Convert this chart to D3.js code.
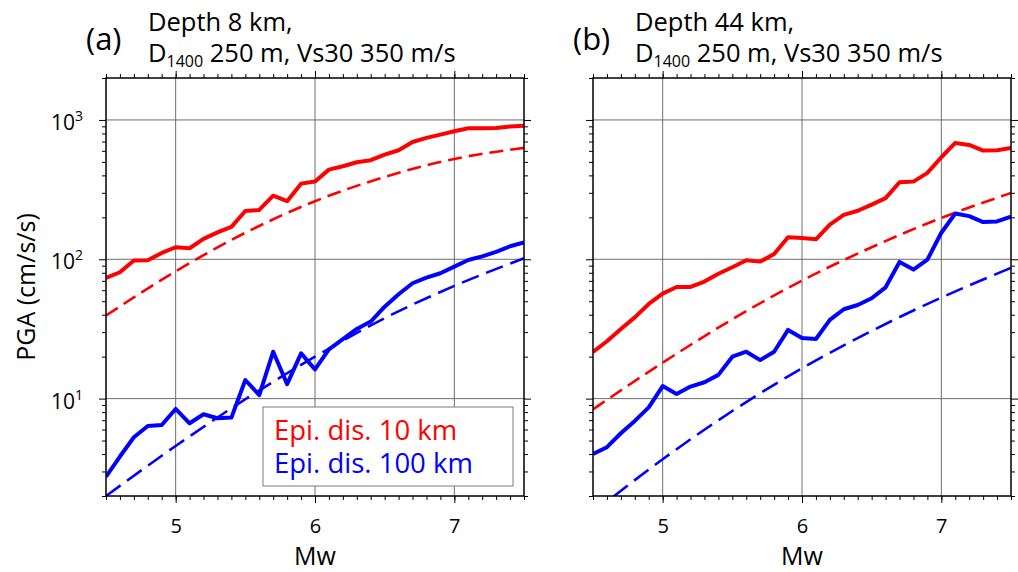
<!DOCTYPE html>
<html>
<head>
<meta charset="utf-8">
<script src="https://cdn.jsdelivr.net/npm/d3@7"></script>
<style>
  body { margin: 0; background: #fff; }
  svg { font-family: 'Open Sans', sans-serif; }
</style>
</head>
<body>
<div id="chart"></div>
<script>
(function() {
    'use strict';

    // Magnitudes of the simulated (solid) curves
    const mw = [4.5, 4.6, 4.7, 4.8, 4.9, 5.0, 5.1, 5.2, 5.3, 5.4, 5.5, 5.6, 5.7, 5.8, 5.9, 6.0,
                6.1, 6.2, 6.3, 6.4, 6.5, 6.6, 6.7, 6.8, 6.9, 7.0, 7.1, 7.2, 7.3, 7.4, 7.5];
    // Magnitudes of the GMPE (dashed) curves
    const mwGmpe = [4.5, 5.0, 5.5, 6.0, 6.5, 7.0, 7.5];

    // (a) depth 8 km
    const aNear = [73.5, 80.7, 98, 98.5, 111, 122, 120, 140, 156, 171, 222, 226, 286, 261, 349, 361,
                   440, 465, 497, 514, 564, 606, 695, 743, 785, 830, 872, 872, 877, 896, 910];
    const aFar = [2.75, 3.84, 5.28, 6.36, 6.47, 8.43, 6.65, 7.72, 7.23, 7.31, 13.6, 10.6, 21.7, 12.7, 21.1, 16.2,
                  22.6, 26.7, 31.6, 35.7, 45.7, 56.1, 67.3, 73.9, 79.4, 88.5, 98.9, 105, 113, 124, 132];
    const aNearGmpe = [39.5, 82, 155, 261, 390, 525, 630];
    const aFarGmpe = [2.0, 4.57, 9.9, 20.0, 37.8, 64.4, 101.6];

    // (b) depth 44 km
    const bNear = [21.6, 25.8, 31.6, 38.3, 47.8, 56.7, 63.3, 63.3, 69.2, 78.8, 87.7, 98.4, 96.2, 109, 144, 142,
                   139, 177, 208, 223, 247, 275, 357, 361, 417, 540, 684, 662, 603, 606, 630];
    const bFar = [4.01, 4.48, 5.64, 6.92, 8.66, 12.3, 10.8, 12.2, 13.1, 14.8, 20.0, 21.7, 18.9, 21.7, 31.1, 27.2,
                  26.8, 36.7, 43.8, 47.0, 52.5, 62.9, 95.7, 84.3, 99.5, 155, 213, 204, 185, 187, 202];
    const bNearGmpe = [8.38, 18.1, 37.1, 70.3, 122, 198, 299];
    const bFarGmpe = [1.52, 3.67, 8.15, 16.5, 30.6, 53.1, 86.7];

    const xMajor = [5, 6, 7];
    const yMajor = [10, 100, 1000];
    const yLabels = ['1', '2', '3'];
    const legendText = ['Epi. dis. 10 km', 'Epi. dis. 100 km'];

    const width = 1018;
    const height = 572;
    const top = 78, bottom = 496;
    const red = '#ff0000', blue = '#0000ff';

    const svg = d3.select('#chart').append('svg')
        .attr('width', width)
        .attr('height', height);

    const xMinor = d3.range(45, 76).map(d => d / 10);
    const yMinor = [];
    [1, 10, 100, 1000].forEach(dec => {
        for (let k = 2; k <= 9; k++) {
            if (dec * k >= 2 && dec * k <= 2000) yMinor.push(dec * k);
        }
    });

    function panel(id, left, right, near, far, nearGmpe, farGmpe, letter, depth) {
        const x = d3.scaleLinear().domain([4.5, 7.5]).range([left, right]);
        const y = d3.scaleLog().domain([2, 2000]).range([bottom, top]);
        const g = svg.append('g').attr('id', id);

        g.append('clipPath').attr('id', id + 'clip')
            .append('rect')
            .attr('x', left).attr('y', top)
            .attr('width', right - left).attr('height', bottom - top);

        // grid
        g.append('g').selectAll('line').data(xMajor).enter().append('line')
            .attr('x1', d => x(d)).attr('x2', d => x(d))
            .attr('y1', top).attr('y2', bottom)
            .attr('stroke', '#6e6e6e').attr('stroke-width', 1);
        g.append('g').selectAll('line').data(yMajor).enter().append('line')
            .attr('x1', left).attr('x2', right)
            .attr('y1', d => y(d)).attr('y2', d => y(d))
            .attr('stroke', '#6e6e6e').attr('stroke-width', 1);

        // ticks on all four sides
        const tickAxes = [
            [d3.axisBottom(x), 'translate(0,' + bottom + ')', xMinor, xMajor],
            [d3.axisTop(x), 'translate(0,' + top + ')', xMinor, xMajor],
            [d3.axisLeft(y), 'translate(' + left + ',0)', yMinor, yMajor],
            [d3.axisRight(y), 'translate(' + right + ',0)', yMinor, yMajor]
        ];
        tickAxes.forEach(t => {
            const minor = t[0].tickValues(t[2]).tickSize(4).tickFormat('');
            g.append('g').attr('transform', t[1]).call(minor)
                .call(s => s.select('.domain').remove())
                .selectAll('line').attr('stroke', '#000').attr('stroke-width', 1);
            const major = t[0].tickValues(t[3]).tickSize(7).tickFormat('');
            g.append('g').attr('transform', t[1]).call(major)
                .call(s => s.select('.domain').remove())
                .selectAll('line').attr('stroke', '#000').attr('stroke-width', 1);
        });

        // x labels
        g.append('g').attr('transform', 'translate(0,' + bottom + ')')
            .call(d3.axisBottom(x).tickValues(xMajor).tickSize(0).tickPadding(23).tickFormat(d3.format('d')))
            .call(s => s.select('.domain').remove())
            .selectAll('text')
            .style('font-family', "'Open Sans', sans-serif")
            .style('font-size', '20px')
            .attr('fill', '#000');

        g.append('text')
            .attr('x', (left + right) / 2)
            .attr('y', 565)
            .attr('text-anchor', 'middle')
            .style('font-size', '25px')
            .text('Mw');

        // curves
        const solid = d3.line()
            .x((d, i) => x(mw[i]))
            .y(d => y(d));
        const dashed = d3.line()
            .x((d, i) => x(mwGmpe[i]))
            .y(d => y(d))
            .curve(d3.curveMonotoneX);

        const lines = g.append('g').attr('clip-path', 'url(#' + id + 'clip)');
        lines.append('path').datum(nearGmpe)
            .attr('d', dashed).attr('fill', 'none')
            .attr('stroke', red).attr('stroke-width', 2.6)
            .attr('stroke-dasharray', '14,7');
        lines.append('path').datum(farGmpe)
            .attr('d', dashed).attr('fill', 'none')
            .attr('stroke', blue).attr('stroke-width', 2.6)
            .attr('stroke-dasharray', '18,8');
        lines.append('path').datum(near)
            .attr('d', solid).attr('fill', 'none')
            .attr('stroke', red).attr('stroke-width', 4)
            .attr('stroke-linejoin', 'round');
        lines.append('path').datum(far)
            .attr('d', solid).attr('fill', 'none')
            .attr('stroke', blue).attr('stroke-width', 4)
            .attr('stroke-linejoin', 'round');

        // frame
        g.append('rect')
            .attr('x', left).attr('y', top)
            .attr('width', right - left).attr('height', bottom - top)
            .attr('fill', 'none').attr('stroke', '#000').attr('stroke-width', 1.5);

        // titles
        g.append('text')
            .attr('x', left - 20).attr('y', 50)
            .style('font-size', '31px')
            .text('(' + letter + ')');
        g.append('text')
            .attr('x', left + 42).attr('y', 31)
            .style('font-size', '25.5px')
            .text('Depth ' + depth + ' km,');
        const t2 = g.append('text')
            .attr('x', left + 42).attr('y', 62)
            .style('font-size', '25.5px');
        t2.append('tspan').text('D');
        t2.append('tspan').attr('dy', 5).style('font-size', '16px').text('1400');
        t2.append('tspan').attr('dy', -5).text(' 250 m, Vs30 350 m/s');

        return {x: x, y: y, g: g};
    }

    const pa = panel('pa', 106, 524, aNear, aFar, aNearGmpe, aFarGmpe, 'a', 8);
    panel('pb', 593, 1011, bNear, bFar, bNearGmpe, bFarGmpe, 'b', 44);

    // y labels for panel (a)
    const yl = svg.append('g').selectAll('text').data(yMajor).enter().append('text')
        .attr('x', 83)
        .attr('y', d => pa.y(d) + 10)
        .attr('text-anchor', 'end')
        .style('font-size', '21px');
    yl.append('tspan').text('10');
    yl.append('tspan').attr('dy', -9).style('font-size', '14px').text((d, i) => yLabels[i]);

    svg.append('text')
        .attr('transform', 'translate(35,' + ((top + bottom) / 2) + ') rotate(-90)')
        .attr('text-anchor', 'middle')
        .style('font-size', '25px')
        .text('PGA (cm/s/s)');

    // legend
    const legend = svg.append('g').attr('id', 'legend');
    legend.append('rect')
        .attr('x', 263).attr('y', 407)
        .attr('width', 250).attr('height', 79)
        .attr('fill', '#fff').attr('stroke', '#7a7a7a').attr('stroke-width', 1);
    legend.selectAll('text').data(legendText).enter().append('text')
        .attr('x', 274)
        .attr('y', (d, i) => 440 + i * 33)
        .style('font-size', '27.5px')
        .attr('fill', (d, i) => i === 0 ? red : blue)
        .text(d => d);
}());
</script>
</body>
</html>
